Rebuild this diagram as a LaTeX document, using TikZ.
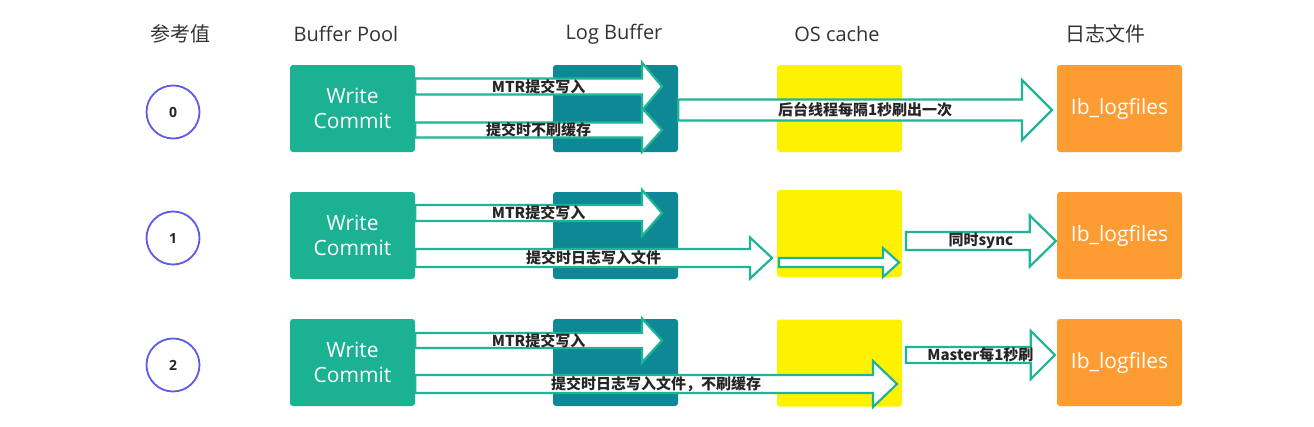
\documentclass[tikz,border=0pt]{standalone}
\usepackage{fontspec}
\setmainfont{Open Sans}
\newfontfamily\cjk{Noto Sans CJK SC}
\usetikzlibrary{calc}
\definecolor{bpgreen}{HTML}{1BB193}
\definecolor{lbteal}{HTML}{0F8895}
\definecolor{osyellow}{HTML}{FFF200}
\definecolor{iborange}{HTML}{FD9C33}
\definecolor{arrowgreen}{HTML}{1DB596}
\definecolor{circblue}{HTML}{5B5BEA}
\definecolor{hdrgrey}{HTML}{333333}
\tikzset{
  box/.style={minimum width=125pt, minimum height=87pt, rounded corners=3pt, inner sep=0pt,
    text=white, font=\fontsize{21}{25}\selectfont, align=center},
  barrow/.style={draw=arrowgreen, line width=2.2pt, fill=white, line join=miter},
  lab/.style={font=\cjk\bfseries\fontsize{15}{17}\selectfont, text=black!85, inner sep=0pt},
  hdr/.style={font=\fontsize{20}{24}\selectfont, text=hdrgrey, inner sep=0pt},
  circ/.style={circle, draw=circblue, line width=1.8pt, minimum size=53pt, inner sep=0pt,
    font=\bfseries\fontsize{14}{16}\selectfont, text=black!85},
}
\newcommand\blockarrow[7]{% start, end, shaft half, head half, head len, label, label name
  \draw[barrow] let \p1=(#1), \p2=(#2) in
    (\x1,\y1+#3pt) -- (\x2-#5pt,\y1+#3pt) -- (\x2-#5pt,\y1+#4pt) -- (\x2,\y1)
    -- (\x2-#5pt,\y1-#4pt) -- (\x2-#5pt,\y1-#3pt) -- (\x1,\y1-#3pt) -- cycle;
  \path (#1) -- node[lab] (#7) {#6} (#2);
}
\begin{document}
\begin{tikzpicture}[x=1pt,y=-1pt]
\useasboundingbox[fill=white] (0,0) rectangle (1314,426);

% headers
\node[hdr] (h0) at (180,34) {\cjk 参考值};
\node[hdr] (h1) at (346,34) {Buffer Pool};
\node[hdr] (h2) at (614,34) {Log Buffer};
\node[hdr] (h3) at (837,34) {OS cache};
\node[hdr] (h4) at (1105,34) {\cjk 日志文件};

% circles
\node[circ] (c0) at (173,112) {0};
\node[circ] (c1) at (173,238) {1};
\node[circ] (c2) at (173,365) {2};

% boxes
\foreach \r/\y/\yy in {0/108.5/108.5, 1/235.5/233.5, 2/362.5/363}{
  \node[box, fill=bpgreen] (bp\r) at (352.5,\y) {Write\\Commit};
  \node[box, fill=lbteal] (lb\r) at (615.5,\y) {};
  \node[box, fill=osyellow] (os\r) at (839.5,\yy) {};
  \node[box, fill=iborange] (ib\r) at (1119.5,\y) {Ib\_logfiles};
}

% row 0
\coordinate (s01) at ($(bp0.east)+(0,-22)$);
\coordinate (e01) at (662,86.5);
\blockarrow{s01}{e01}{8}{24}{20}{MTR提交写入}{l01}
\coordinate (s02) at ($(bp0.east)+(0,21.5)$);
\coordinate (e02) at (662,130);
\blockarrow{s02}{e02}{7.5}{22}{20}{提交时不刷缓存}{l02}
\coordinate (s03) at ($(lb0.east)+(0,1.5)$);
\coordinate (e03) at (1052,110);
\blockarrow{s03}{e03}{10.5}{30}{30}{后台线程每隔1秒刷出一次}{l03}

% row 1
\coordinate (s11) at ($(bp1.east)+(0,-22.5)$);
\coordinate (e11) at (662,213);
\blockarrow{s11}{e11}{8}{23}{20}{MTR提交写入}{l11}
\coordinate (s12) at ($(bp1.east)+(0,22.5)$);
\coordinate (e12) at (772,258);
\blockarrow{s12}{e12}{9}{20.5}{22}{提交时日志写入文件}{l12}
\coordinate (s13) at (779,262.5);
\coordinate (e13) at (899,262.5);
\blockarrow{s13}{e13}{4.5}{14.5}{16}{}{l13}
\coordinate (s14) at (906,241);
\coordinate (e14) at ($(ib1.west)+(-1,5.5)$);
\blockarrow{s14}{e14}{9}{25.5}{26}{同时sync}{l14}

% row 2
\coordinate (s21) at ($(bp2.east)+(0,-22)$);
\coordinate (e21) at (662,340.5);
\blockarrow{s21}{e21}{7.5}{22}{20}{MTR提交写入}{l21}
\coordinate (s22) at ($(bp2.east)+(0,21.5)$);
\coordinate (e22) at (897,384);
\blockarrow{s22}{e22}{9}{23}{24}{提交时日志写入文件，不刷缓存}{l22}
\coordinate (s23) at (906,355);
\coordinate (e23) at ($(ib2.west)+(-2,-7.5)$);
\blockarrow{s23}{e23}{8}{24}{24}{Master每1秒刷}{l23}
\end{tikzpicture}
\end{document}
